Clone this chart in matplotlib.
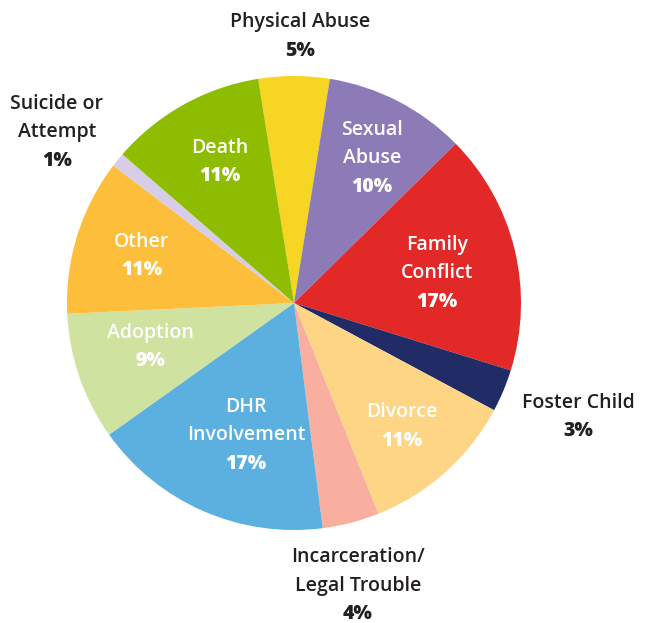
import matplotlib
matplotlib.use("Agg")
import matplotlib.pyplot as plt

categories = ["Physical Abuse", "Sexual Abuse", "Family Conflict", "Foster Child", "Divorce",
              "Incarceration/\nLegal Trouble", "DHR Involvement", "Adoption", "Other",
              "Suicide or Attempt", "Death"]
values = [5, 10, 17, 3, 11, 4, 17, 9, 11, 1, 11]
label_names = ["Physical Abuse", "Sexual\nAbuse", "Family\nConflict", "Foster Child", "Divorce",
               "Incarceration/\nLegal Trouble", "DHR\nInvolvement", "Adoption", "Other",
               "Suicide or\nAttempt", "Death"]
colors = ["#F6D523", "#8D7BB7", "#E32828", "#212C66", "#FDD585", "#F9AF9F",
          "#5BB0E0", "#D0E2A0", "#FDBE3C", "#D7CDE6", "#8DBC00"]
inside = [False, True, True, False, True, False, True, True, True, False, True]
# label anchor (pixel coords of the first line center)
label_pos = [(300, 22), (372, 130), (437, 245), (578, 403), (402, 412), (358, 557),
             (246, 407), (150, 333), (142, 242), (57, 104), (220, 148)]

W, H = 649, 623
fig = plt.figure(figsize=(W / 100, H / 100), dpi=100)
cx, cy, r = 294, 303, 227
ax = fig.add_axes([(cx - r) / W, (H - cy - r) / H, 2 * r / W, 2 * r / H])
total = sum(values)
start = 90 + values[0] / total * 360 / 2
ax.pie(values, colors=colors, startangle=start, counterclock=False, radius=1,
       wedgeprops=dict(linewidth=0))
ax.set_xlim(-1, 1)
ax.set_ylim(-1, 1)
ax.set_aspect("auto")
ax.axis("off")

fam = ["Open Sans", "DejaVu Sans"]
line = 28.5
fs = 14
for name, v, ins, (px, py) in zip(label_names, values, inside, label_pos):
    col = "white" if ins else "#231F20"
    lines = name.split("\n")
    for i, ln in enumerate(lines):
        fig.text(px / W, 1 - (py + i * line) / H, ln, ha="center", va="center",
                 fontsize=fs, color=col, family=fam, fontweight="semibold")
    fig.text(px / W, 1 - (py + len(lines) * line) / H, f"{v}%", ha="center", va="center",
             fontsize=fs, color=col, family=fam, fontweight="heavy")

fig.savefig("out.png", dpi=100)
